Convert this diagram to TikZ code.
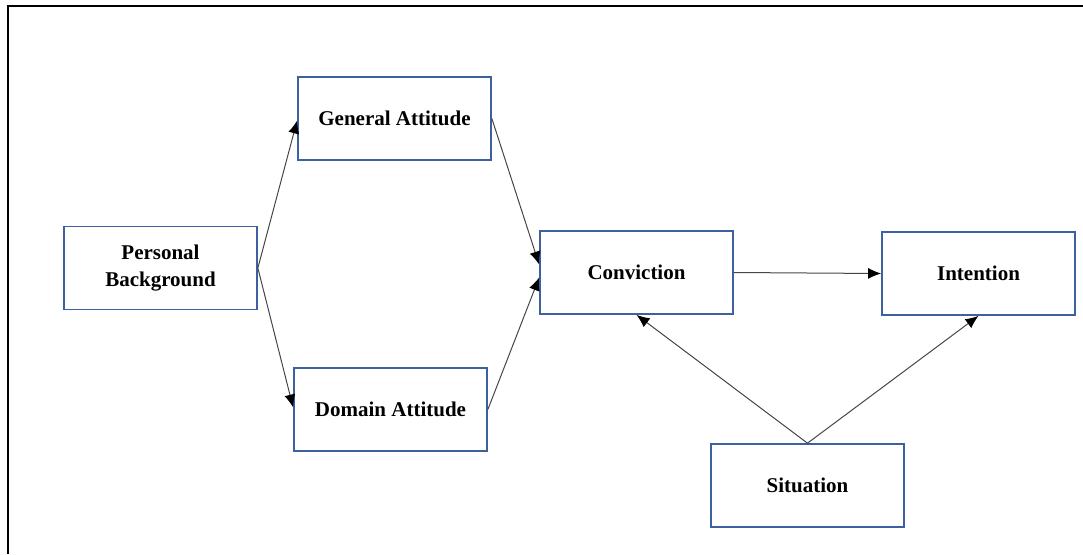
\documentclass[tikz,border=0pt]{standalone}
\usepackage{fontspec}
\setmainfont{Liberation Serif}
\usetikzlibrary{arrows.meta}
\definecolor{boxblue}{RGB}{60,96,160}
\definecolor{linegray}{RGB}{70,70,70}
\begin{document}
\begin{tikzpicture}[x=1pt,y=-1pt,
  box/.style={draw=boxblue,line width=1.7pt,fill=white,minimum width=193pt,minimum height=83pt,
    inner sep=0pt,align=center,font=\fontsize{21}{27}\selectfont\bfseries},
  link/.style={draw=linegray,line width=1pt,
    -{Latex[length=13pt,width=11pt,color=black,fill=black]}}]
  \useasboundingbox (0,0) rectangle (1083,554);
  % outer frame (top and left edges)
  \draw[line width=2pt] (1083,5.5) -- (8,5.5) -- (8,554);
  % boxes
  \node[box] (pb) at (160.5,268) {Personal\\Background};
  \node[box] (ga) at (394.5,118.5) {General Attitude};
  \node[box] (da) at (390.5,409.5) {Domain Attitude};
  \node[box] (cv) at (636.5,272.5) {Conviction};
  \node[box] (in) at (978.5,273.5) {Intention};
  \node[box] (si) at (807.5,485.5) {Situation};
  % connectors
  \draw[link] (pb.east) -- ([yshift=-2pt]ga.west);
  \draw[link] (pb.east) -- ([yshift=2pt]da.west);
  \draw[link] (ga.east) -- ([yshift=8pt]cv.west);
  \draw[link] (da.east) -- ([yshift=-5pt]cv.west);
  \draw[link] (cv.east) -- (in.west);
  \draw[link] (si.north) -- (cv.south);
  \draw[link] (si.north) -- (in.south);
\end{tikzpicture}
\end{document}
